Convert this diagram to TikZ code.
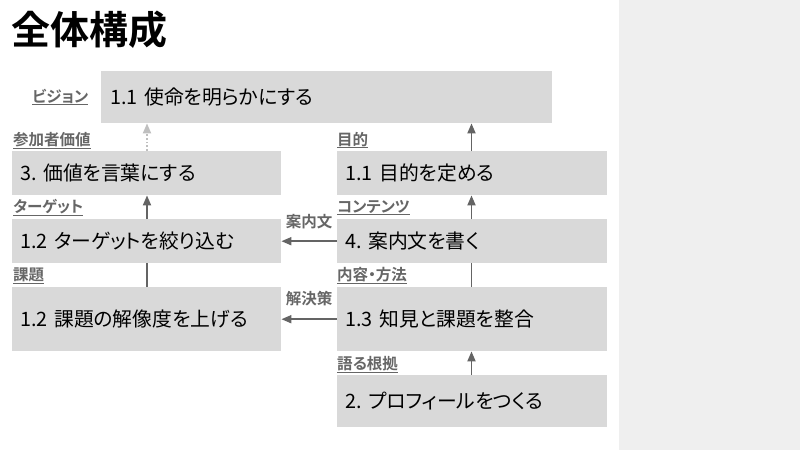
\documentclass[tikz,border=0pt]{standalone}
\usepackage{fontspec}
\setmainfont{Noto Sans CJK JP}[RawFeature=+palt]
\newfontfamily\jpbold{Noto Sans CJK JP Bold}[RawFeature=+palt]
\usetikzlibrary{arrows.meta}
\definecolor{boxgray}{HTML}{D9D9D9}
\definecolor{panelgray}{HTML}{EFEFEF}
\definecolor{labgray}{HTML}{666666}
\definecolor{arrgray}{HTML}{646464}
\definecolor{dotgray}{HTML}{BFBFBF}
\frenchspacing
\tikzset{
  stepbox/.style={fill=boxgray, draw=none, anchor=north west, inner xsep=8pt, inner ysep=0pt,
    align=left, font=\fontsize{19.8}{22}\selectfont, text=black},
  tag/.style={anchor=base west, inner sep=0pt, text=labgray, font=\jpbold\fontsize{15.5}{17}\selectfont},
  arr/.style={draw=arrgray, line width=1.8pt, -{Triangle[width=8pt,length=10pt]}},
  plain/.style={draw=arrgray, line width=1.8pt},
  dotarr/.style={draw=dotgray, line width=1.8pt, dotted, -{Triangle[width=8pt,length=10pt,fill=dotgray]}},
  edgelab/.style={inner sep=0pt, text=labgray, font=\jpbold\fontsize{15.5}{17}\selectfont}
}
\newcommand{\ul}[1]{\underline{#1}}
\begin{document}
\begin{tikzpicture}[x=1pt,y=-1pt]
\useasboundingbox (0,0) rectangle (800,450);
\fill[white] (0,0) rectangle (800,450);
\fill[panelgray] (619,0) rectangle (800,450);

\node[anchor=west, inner sep=0pt, font=\jpbold\fontsize{39}{42}\selectfont] (title) at (11,30) {全体構成};

\node[stepbox, minimum width=451pt, minimum height=52pt, text width=433pt, inner xsep=9pt] (vis) at (101,71) {1.1 使命を明らかにする};
\node[stepbox, minimum width=269pt, minimum height=44pt, text width=253pt] (val) at (12,151) {3. 価値を言葉にする};
\node[stepbox, minimum width=270pt, minimum height=44pt, text width=254pt] (pur) at (337,151) {1.1 目的を定める};
\node[stepbox, minimum width=269pt, minimum height=44pt, text width=253pt] (tgt) at (12,219) {1.2 ターゲットを絞り込む};
\node[stepbox, minimum width=270pt, minimum height=44pt, text width=254pt] (cnt) at (337,219) {4. 案内文を書く};
\node[stepbox, minimum width=269pt, minimum height=64pt, text width=253pt] (iss) at (12,287) {1.2 課題の解像度を上げる};
\node[stepbox, minimum width=270pt, minimum height=64pt, text width=254pt] (kno) at (337,287) {1.3 知見と課題を整合};
\node[stepbox, minimum width=270pt, minimum height=52pt, text width=254pt] (pro) at (337,375) {2. プロフィールをつくる};

\node[tag] (lvis) at (32,102) {\ul{ビジョン}};
\node[tag] (lval) at (13,145) {\ul{参加者価値}};
\node[tag] (lpur) at (337,145) {\ul{目的}};
\node[tag] (ltgt) at (13,212) {\ul{ターゲット}};
\node[tag] (lcnt) at (337,212) {\ul{コンテンツ}};
\node[tag] (liss) at (13,280) {\ul{課題}};
\node[tag] (lkno) at (337,280) {\ul{内容・方法}};
\node[tag] (lpro) at (337,369) {\ul{語る根拠}};

\coordinate (xl) at (147,0);
\coordinate (xr) at (471.5,0);

\draw[dotarr] (val.north -| xl) -- (vis.south -| xl);
\draw[arr] (tgt.north -| xl) -- (val.south -| xl);
\draw[plain] (iss.north -| xl) -- (tgt.south -| xl);

\draw[arr] (pur.north -| xr) -- (vis.south -| xr);
\draw[arr] (cnt.north -| xr) -- (pur.south -| xr);
\draw[plain] (kno.north -| xr) -- (cnt.south -| xr);
\draw[arr] (pro.north -| xr) -- (kno.south -| xr);

\draw[arr] (cnt.west) -- (tgt.east) node[edgelab, midway, above=11pt] (e1) {案内文};
\draw[arr] (kno.west) -- (iss.east) node[edgelab, midway, above=12pt] (e2) {解決策};
\end{tikzpicture}
\end{document}
